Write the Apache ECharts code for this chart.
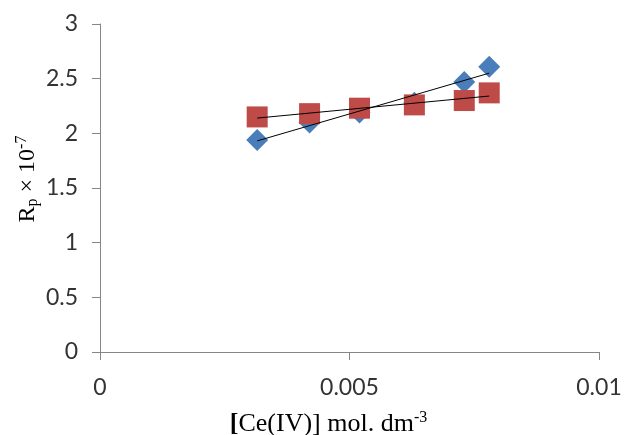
<!DOCTYPE html>
<html>
<head>
<meta charset="utf-8">
<script src="https://cdn.jsdelivr.net/npm/echarts@6/dist/echarts.min.js"></script>
<style>html,body{margin:0;padding:0;background:#fff}#c{width:638px;height:435px}</style>
</head>
<body>
<div id="c"></div>
<script>
const xBlue = [0.00315, 0.0042, 0.0052, 0.0063, 0.0073, 0.0078];
const yBlue = [1.94, 2.10, 2.19, 2.28, 2.47, 2.61];
const xRed = [0.00315, 0.0042, 0.0052, 0.0063, 0.0073, 0.0078];
const yRed = [2.15, 2.18, 2.23, 2.26, 2.30, 2.37];
const xTicks = [0, 0.005, 0.01];
const yTicks = [0, 0.5, 1, 1.5, 2, 2.5, 3];

function fit(xs, ys) {
  const n = xs.length;
  const mx = xs.reduce((a, b) => a + b, 0) / n;
  const my = ys.reduce((a, b) => a + b, 0) / n;
  let sxy = 0, sxx = 0;
  for (let i = 0; i < n; i++) { sxy += (xs[i] - mx) * (ys[i] - my); sxx += (xs[i] - mx) ** 2; }
  const m = sxy / sxx, b = my - m * mx;
  const x0 = Math.min(...xs), x1 = Math.max(...xs);
  return [[x0, m * x0 + b], [x1, m * x1 + b]];
}
const pairs = (xs, ys) => xs.map((x, i) => [x, ys[i]]);

const chart = echarts.init(document.getElementById('c'));
const labelFont = { fontFamily: 'Lato, sans-serif', fontSize: 23, color: '#333333' };
const serif = 'Liberation Serif, serif';
chart.setOption({
  animation: false,
  grid: { left: 100, right: 39, top: 24, bottom: 83, containLabel: false, outerBoundsMode: 'none' },
  xAxis: {
    type: 'value', min: 0, max: 0.01, interval: 0.005,
    splitLine: { show: false },
    axisLine: { lineStyle: { color: '#868686', width: 1 } },
    axisTick: { show: true, length: 8, lineStyle: { color: '#868686' } },
    axisLabel: Object.assign({ margin: 24, formatter: v => String(xTicks.includes(v) ? v : v) }, labelFont),
    name: '{b|[}{a|Ce(IV)] mol. dm}{s|-3}',
    nameLocation: 'middle', nameGap: 58,
    nameTextStyle: {
      padding: [0, 42, 0, 0],
      rich: {
        b: { fontFamily: serif, fontSize: 26, fontWeight: 'bold', color: '#000' },
        a: { fontFamily: serif, fontSize: 26, color: '#000' },
        s: { fontFamily: serif, fontSize: 16, color: '#000', padding: [0, 0, 12, 0] }
      }
    }
  },
  yAxis: {
    type: 'value', min: 0, max: 3, interval: 0.5,
    splitLine: { show: false },
    axisLine: { show: true, lineStyle: { color: '#868686', width: 1 } },
    axisTick: { show: true, length: 8, lineStyle: { color: '#868686' } },
    axisLabel: Object.assign({ margin: 22, formatter: v => String(yTicks.includes(v) ? v : v) }, labelFont),
    name: '{a|R}{p|p}{a| × 10}{s|-7}',
    nameLocation: 'middle', nameGap: 58, nameMoveOverlap: false,
    nameTextStyle: {
      padding: [0, 0, 0, 18],
      rich: {
        a: { fontFamily: serif, fontSize: 24, color: '#000' },
        p: { fontFamily: serif, fontSize: 16, color: '#000', padding: [10, 0, 0, 0] },
        s: { fontFamily: serif, fontSize: 16, color: '#000', padding: [0, 0, 12, 0] }
      }
    }
  },
  series: [
    { type: 'scatter', data: pairs(xBlue, yBlue), symbol: 'diamond', symbolSize: 22,
      itemStyle: { color: '#4A7EBB', opacity: 1 }, z: 2 },
    { type: 'scatter', data: pairs(xRed, yRed), symbol: 'rect', symbolSize: 21,
      itemStyle: { color: '#BE4B48', opacity: 1 }, z: 3 },
    { type: 'line', data: fit(xBlue, yBlue), symbol: 'none', lineStyle: { color: '#000', width: 1 }, z: 4 },
    { type: 'line', data: fit(xRed, yRed), symbol: 'none', lineStyle: { color: '#000', width: 1 }, z: 4 }
  ]
});
</script>
</body>
</html>
